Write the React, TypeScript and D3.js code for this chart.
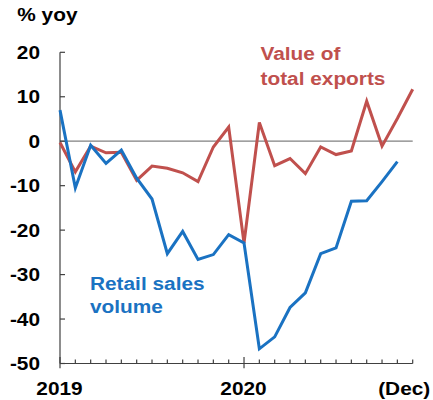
import React from 'react'
import * as d3 from 'd3'

// monthly data, Jan 2019 .. Dec 2020
const months = [
  '2019-01', '2019-02', '2019-03', '2019-04', '2019-05', '2019-06',
  '2019-07', '2019-08', '2019-09', '2019-10', '2019-11', '2019-12',
  '2020-01', '2020-02', '2020-03', '2020-04', '2020-05', '2020-06',
  '2020-07', '2020-08', '2020-09', '2020-10', '2020-11', '2020-12',
]

const exportsValue = [
  -0.3, -6.9, -1.1, -2.6, -2.5, -8.8, -5.6, -6.1, -7.1, -9.1, -1.3, 3.2,
  -22.9, 4.2, -5.5, -3.9, -7.3, -1.3, -3.0, -2.2, 9.0, -1.1, 5.1, 11.7,
]

// retail sales stops at Nov 2020
const retailVolume = [
  7.0, -10.5, -0.9, -5.0, -2.0, -8.3, -13.0, -25.3, -20.3, -26.6, -25.5, -21.0,
  -22.9, -46.7, -44.0, -37.4, -34.1, -25.3, -24.0, -13.5, -13.4, -9.1, -4.6,
]

const yTicks = [20, 10, 0, -10, -20, -30, -40, -50]
const xLabels = [
  { month: '2019-01', text: '2019' },
  { month: '2020-01', text: '2020' },
  { month: '2020-12', text: '(Dec)' },
]
const majorMonths = ['2019-01', '2020-01']

const RED = '#c0504d'
const BLUE = '#1a72c2'
const AXIS = '#404040'
const FONT = '"Liberation Sans", Arial, sans-serif'
const FS = 18.6
const SX = 1.12

const width = 433
const height = 400
const margin = { top: 52.3, right: 20.3, bottom: 36.5, left: 60 }

function Label({ x, y, anchor = 'start', fill = '#000', children }) {
  return (
    <text
      transform={`translate(${x},${y}) scale(${SX},1)`}
      textAnchor={anchor}
      fontFamily={FONT}
      fontWeight="bold"
      fontSize={FS}
      fill={fill}
    >
      {children}
    </text>
  )
}

export default function App() {
  const x = d3.scalePoint()
    .domain(months)
    .range([margin.left, width - margin.right])

  const y = d3.scaleLinear()
    .domain([-50, 20])
    .range([height - margin.bottom, margin.top])

  const line = d3.line()
    .x((d, i) => x(months[i]))
    .y(d => y(d))

  const y0 = y(-50)

  return (
    <svg
      width={width}
      height={height}
      viewBox={`0 0 ${width} ${height}`}
      style={{ position: 'absolute', left: 0, top: 0, background: '#fff' }}
    >
      {/* zero line */}
      <line x1={x(months[0])} x2={x(months[months.length - 1])} y1={y(0)} y2={y(0)}
        stroke="#808080" strokeWidth={1.3} />

      {/* y axis */}
      <line x1={margin.left} x2={margin.left} y1={y(20)} y2={y0} stroke={AXIS} strokeWidth={1.2} />
      {yTicks.map(t => (
        <g key={t}>
          <line x1={margin.left} x2={margin.left + 5} y1={y(t)} y2={y(t)} stroke={AXIS} strokeWidth={1.2} />
          <Label x={40} y={y(t) + 6.7} anchor="end">{t}</Label>
        </g>
      ))}

      {/* x axis */}
      <line x1={margin.left} x2={x(months[months.length - 1])} y1={y0} y2={y0} stroke={AXIS} strokeWidth={1.2} />
      {months.map(m => {
        const major = majorMonths.includes(m)
        return (
          <line key={m} x1={x(m)} x2={x(m)} y1={major ? y0 - 6.6 : y0 - 4} y2={major ? y0 + 4.7 : y0}
            stroke={AXIS} strokeWidth={1.2} />
        )
      })}
      {xLabels.map(l => (
        <Label key={l.text} x={x(l.month) + (l.text === '(Dec)' ? -8.5 : -0.5)} y={395} anchor="middle">
          {l.text}
        </Label>
      ))}

      {/* series */}
      <path d={line(exportsValue)} fill="none" stroke={RED} strokeWidth={3} strokeLinejoin="miter" />
      <path d={line(retailVolume)} fill="none" stroke={BLUE} strokeWidth={3} strokeLinejoin="miter" />

      {/* titles */}
      <Label x={17.3} y={20.7}>% yoy</Label>
      <Label x={260.5} y={60} fill={RED}>Value of</Label>
      <Label x={260.5} y={85} fill={RED}>total exports</Label>
      <Label x={90} y={290} fill={BLUE}>Retail sales</Label>
      <Label x={90} y={313.3} fill={BLUE}>volume</Label>
    </svg>
  )
}
